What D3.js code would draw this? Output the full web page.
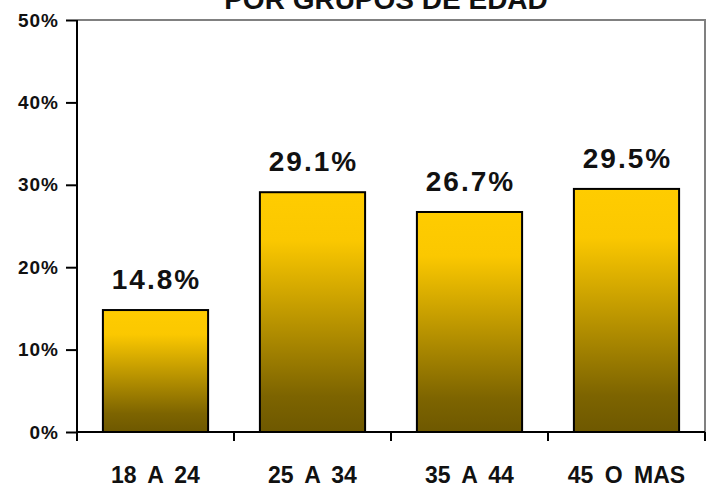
<!DOCTYPE html>
<meta charset="utf-8">
<style>
body { margin: 0; background: white; }
svg text { font-family: "Liberation Sans", Arial, sans-serif; font-weight: bold; fill: #111; }
</style>
<body>
<svg width="711" height="487"></svg>
<script src="https://d3js.org/d3.v7.min.js"></script>
<script>
// data
var categories = ["18 A 24", "25 A 34", "35 A 44", "45 O MAS"];
var values = [14.8, 29.1, 26.7, 29.5];
var yTicks = [0, 10, 20, 30, 40, 50];
var title = "POR GRUPOS DE EDAD";

var margin = {top: 20, right: 6, bottom: 55, left: 77},
    width = 711 - margin.left - margin.right,
    height = 487 - margin.top - margin.bottom;

var svg = d3.select("svg");
var g = svg.append("g")
    .attr("transform", "translate(" + margin.left + "," + margin.top + ")");

var defs = svg.append("defs");
var grad = defs.append("linearGradient")
    .attr("id", "barGrad")
    .attr("x1", 0).attr("y1", 0).attr("x2", 0).attr("y2", 1);
grad.append("stop").attr("offset", "0%").attr("stop-color", "#ffcc00");
grad.append("stop").attr("offset", "20%").attr("stop-color", "#fbc800");
grad.append("stop").attr("offset", "85%").attr("stop-color", "#7d6400");
grad.append("stop").attr("offset", "100%").attr("stop-color", "#6e5800");

var x = d3.scaleBand()
    .domain(categories)
    .range([0, width])
    .paddingInner(0.33)
    .paddingOuter(0.165);

var y = d3.scaleLinear()
    .domain([0, 50])
    .range([height, 0]);

// plot border (grey top and right)
g.append("path")
    .attr("d", "M0,0H" + width + "V" + height)
    .attr("fill", "none")
    .attr("stroke", "#808080")
    .attr("stroke-width", 2);

// bars
g.selectAll(".bar")
    .data(values)
  .enter().append("rect")
    .attr("class", "bar")
    .attr("x", function(d, i) { return x(categories[i]); })
    .attr("width", x.bandwidth())
    .attr("y", function(d) { return y(d); })
    .attr("height", function(d) { return height - y(d); })
    .attr("fill", "url(#barGrad)")
    .attr("stroke", "#000")
    .attr("stroke-width", 2);

// value labels
g.selectAll(".val")
    .data(values)
  .enter().append("text")
    .attr("class", "val")
    .attr("x", function(d, i) { return x(categories[i]) + x.bandwidth() / 2 + 1; })
    .attr("y", function(d) { return y(d) - 21; })
    .attr("text-anchor", "middle")
    .style("font-size", "28px")
    .style("letter-spacing", "2px")
    .text(function(d) { return d.toFixed(1) + "%"; });

// y axis
var yAxis = d3.axisLeft(y)
    .tickValues(yTicks)
    .tickSize(11)
    .tickPadding(7)
    .tickFormat(function(d) { return d + "%"; });

var ya = g.append("g").call(yAxis);
ya.select(".domain").attr("stroke", "#000").attr("stroke-width", 2)
    .attr("d", "M0,0V" + height);
ya.selectAll(".tick line").attr("stroke", "#000").attr("stroke-width", 2);
ya.selectAll(".tick text")
    .style("font-size", "19px")
    .style("letter-spacing", "1px")
    .attr("fill", "#111");

// x axis line and ticks at band edges
g.append("line")
    .attr("x1", 0).attr("x2", width)
    .attr("y1", height).attr("y2", height)
    .attr("stroke", "#000").attr("stroke-width", 2);

var edges = categories.map(function(c) { return x(c) - x.step() * x.paddingInner() / 2; });
edges.push(width);
edges[0] = 0;
g.selectAll(".xtick")
    .data(edges)
  .enter().append("line")
    .attr("x1", function(d) { return d; })
    .attr("x2", function(d) { return d; })
    .attr("y1", height).attr("y2", height + 9)
    .attr("stroke", "#000").attr("stroke-width", 2);

g.selectAll(".cat")
    .data(categories)
  .enter().append("text")
    .attr("class", "cat")
    .attr("x", function(c) { return x(c) + x.bandwidth() / 2; })
    .attr("y", height + 51)
    .attr("text-anchor", "middle")
    .style("font-size", "23px")
    .style("word-spacing", "5px")
    .text(function(c) { return c; });

// title (cut at top of picture)
svg.append("text")
    .attr("x", 386)
    .attr("y", 9)
    .attr("text-anchor", "middle")
    .style("font-size", "28px")
    .text(title);
</script>
</body>
